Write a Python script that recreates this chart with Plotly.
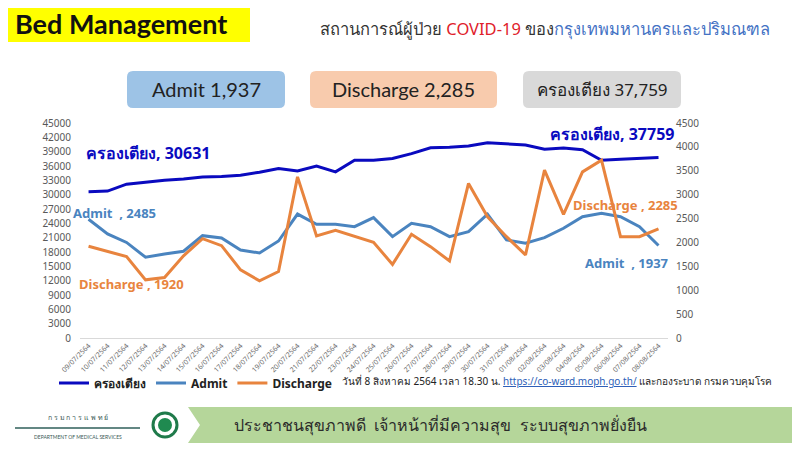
import plotly.graph_objects as go

# data
dates = ["09/07/2564", "10/07/2564", "11/07/2564", "12/07/2564", "13/07/2564",
         "14/07/2564", "15/07/2564", "16/07/2564", "17/07/2564", "18/07/2564",
         "19/07/2564", "20/07/2564", "21/07/2564", "22/07/2564", "23/07/2564",
         "24/07/2564", "25/07/2564", "26/07/2564", "27/07/2564", "28/07/2564",
         "29/07/2564", "30/07/2564", "31/07/2564", "01/08/2564", "02/08/2564",
         "03/08/2564", "04/08/2564", "05/08/2564", "06/08/2564", "07/08/2564",
         "08/08/2564"]
bed = [30631, 30750, 32200, 32690, 33040, 33300, 33700, 33800, 34080, 34700,
       35470, 34950, 36000, 34770, 37200, 37200, 37560, 38600, 39800, 39900,
       40200, 40850, 40690, 40400, 39500, 39780, 39400, 37200, 37420, 37560,
       37759]
admit = [2485, 2180, 2000, 1690, 1760, 1815, 2142, 2095, 1843, 1780,
         2030, 2594, 2379, 2379, 2330, 2520, 2121, 2400, 2330, 2121,
         2226, 2590, 2052, 1983, 2100, 2296, 2538, 2609, 2538, 2330,
         1937]
discharge = [1920, 1808, 1704, 1217, 1265, 1720, 2080, 1933, 1426, 1195,
             1391, 3373, 2135, 2255, 2121, 2003, 1540, 2170, 1912, 1613,
             3235, 2538, 2121, 1739, 3513, 2588, 3477, 3721, 2121, 2121,
             2285]

left_ticks = list(range(0, 45001, 3000))
right_ticks = list(range(0, 4501, 500))

BLUE_DARK = "#0a0abf"
BLUE = "#4a84bf"
ORANGE = "#e8843e"
THAI = "Tahoma, 'Noto Sans', 'DejaVu Sans', sans-serif"
LATIN = "Lato, 'Open Sans', sans-serif"

# the page body adds an 8px margin, so the figure is drawn 8px in
OFF = 8
# plot area in window pixels
PL, PR, PT, PB = 80, 668, 123, 338
W, H = 800 - OFF, 450 - OFF


def px(x):
    return (x - PL) / (PR - PL)


def py(y):
    return (PB - y) / (PB - PT)


def rounded_box(x0, y0, x1, y1, r, color):
    path = (f"M {px(x0 + r)},{py(y0)} L {px(x1 - r)},{py(y0)} "
            f"Q {px(x1)},{py(y0)} {px(x1)},{py(y0 + r)} "
            f"L {px(x1)},{py(y1 - r)} Q {px(x1)},{py(y1)} {px(x1 - r)},{py(y1)} "
            f"L {px(x0 + r)},{py(y1)} Q {px(x0)},{py(y1)} {px(x0)},{py(y1 - r)} "
            f"L {px(x0)},{py(y0 + r)} Q {px(x0)},{py(y0)} {px(x0 + r)},{py(y0)} Z")
    return dict(type="path", xref="paper", yref="paper", path=path,
                fillcolor=color, line=dict(width=0), layer="below")


def label(x, y, text, size, color, family=THAI, anchor="center", bold=False):
    if bold:
        text = f"<b>{text}</b>"
    return dict(xref="paper", yref="paper", x=px(x), y=py(y), text=text,
                showarrow=False, xanchor=anchor, yanchor="middle",
                font=dict(size=size, color=color, family=family))


fig = go.Figure()
fig.add_trace(go.Scatter(x=dates, y=bed, mode="lines", name="<b>ครองเตียง</b>",
                         line=dict(color=BLUE_DARK, width=3)))
fig.add_trace(go.Scatter(x=dates, y=admit, mode="lines", name="<b>Admit</b>",
                         yaxis="y2", line=dict(color=BLUE, width=3)))
fig.add_trace(go.Scatter(x=dates, y=discharge, mode="lines", name="<b>Discharge</b>",
                         yaxis="y2", line=dict(color=ORANGE, width=3)))

shapes = [
    dict(type="rect", xref="paper", yref="paper", x0=px(0), x1=px(250),
         y0=py(4), y1=py(42), fillcolor="#ffff00", line=dict(width=0), layer="below"),
    rounded_box(127, 71, 285, 108, 6, "#9dc3e6"),
    rounded_box(310, 71, 497, 108, 6, "#f8cbad"),
    rounded_box(523, 71, 681, 108, 6, "#d9d9d9"),
    # footer banner
    dict(type="path", xref="paper", yref="paper",
         path=(f"M {px(188)},{py(407)} L {px(800)},{py(407)} L {px(800)},{py(443)} "
               f"L {px(188)},{py(443)} L {px(200)},{py(425)} Z"),
         fillcolor="#b5d69a", line=dict(width=0), layer="below"),
    dict(type="line", xref="paper", yref="paper", x0=px(15), x1=px(140),
         y0=py(428), y1=py(428), line=dict(color="#2f5f5a", width=1.5)),
    dict(type="circle", xref="paper", yref="paper", x0=px(153), x1=px(177),
         y0=py(413), y1=py(437), fillcolor="#ffffff", line=dict(color="#1f7a4a", width=3)),
    dict(type="circle", xref="paper", yref="paper", x0=px(158), x1=px(172),
         y0=py(418), y1=py(432), fillcolor="#1f8a50", line=dict(width=0)),
]

annotations = [
    label(13, 23, "Bed Management", 27, "#111111", LATIN, "left", bold=True),
    dict(xref="paper", yref="paper", x=px(318), y=py(28), xanchor="left", yanchor="middle",
         showarrow=False, font=dict(size=16.5, color="#333333", family=THAI),
         text=("สถานการณ์ผู้ป่วย <span style='color:#e0202a'>COVID-19</span> ของ"
               "<span style='color:#4472c4'>กรุงเทพมหานครและปริมณฑล</span>")),
    label(206, 89, "Admit 1,937", 20, "#222222", LATIN),
    label(403, 89, "Discharge 2,285", 20, "#222222", LATIN),
    label(602, 89, "ครองเตียง 37,759", 17, "#222222", THAI),
    label(84, 153, "ครองเตียง, 30631", 16, BLUE_DARK, THAI, "left", bold=True),
    label(71, 213, "Admit  , 2485", 13, BLUE, THAI, "left", bold=True),
    label(77, 284, "Discharge , 1920", 13, ORANGE, THAI, "left", bold=True),
    label(676, 134, "ครองเตียง, 37759", 16, BLUE_DARK, THAI, "right", bold=True),
    label(680, 205, "Discharge , 2285", 13, ORANGE, THAI, "right", bold=True),
    label(670, 263, "Admit  , 1937", 13, BLUE, THAI, "right", bold=True),
    dict(xref="paper", yref="paper", x=px(340), y=py(381), xanchor="left", yanchor="middle",
         showarrow=False, font=dict(size=10, color="#222222", family=THAI),
         text=("วันที่ 8 สิงหาคม 2564 เวลา 18.30 น. "
               "<span style='color:#2e5fb8'><u>https://co-ward.moph.go.th/</u></span>"
               " และกองระบาด กรมควบคุมโรค")),
    label(440, 425, "ประชาชนสุขภาพดี  เจ้าหน้าที่มีความสุข  ระบบสุขภาพยั่งยืน",
          16, "#2b2b2b", THAI),
    label(78, 417, "ก ร ม ก า ร แ พ ท ย์", 7, "#3a5a55", THAI),
    label(78, 437, "DEPARTMENT OF MEDICAL SERVICES", 5, "#3a5a55", LATIN),
]

fig.update_layout(
    width=W, height=H,
    margin=dict(l=PL - OFF, r=W - (PR - OFF), t=PT - OFF, b=H - (PB - OFF)),
    paper_bgcolor="white", plot_bgcolor="white",
    font=dict(family=THAI, color="#595959"),
    xaxis=dict(type="category", range=[-0.45, 30.5], tickangle=-45,
               tickfont=dict(size=7, color="#6a6a6a"), showgrid=False,
               showline=True, linecolor="#d9d9d9", linewidth=1, ticks=""),
    yaxis=dict(range=[0, 45000], tickvals=left_ticks, tickformat="d",
               showgrid=False, zeroline=False, ticklabelstandoff=8,
               tickfont=dict(size=10, color="#595959"), ticks=""),
    yaxis2=dict(range=[0, 4500], tickvals=right_ticks, tickformat="d",
                overlaying="y", side="right", showgrid=False, zeroline=False,
                ticklabelstandoff=7,
                tickfont=dict(size=10, color="#595959"), ticks=""),
    legend=dict(orientation="h", x=px(54), y=py(383), xanchor="left", yanchor="middle",
                font=dict(size=12, color="#222222", family=THAI),
                bgcolor="rgba(0,0,0,0)", itemwidth=30, tracegroupgap=0),
    shapes=shapes,
    annotations=annotations,
)

fig.write_html("out.html")
